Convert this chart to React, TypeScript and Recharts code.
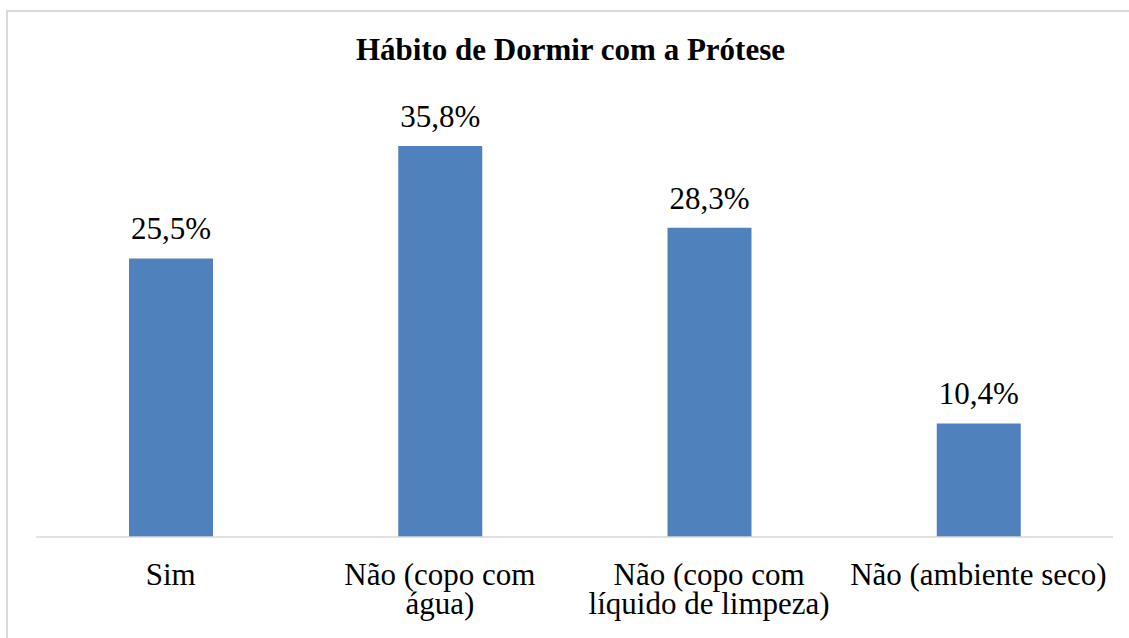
import { BarChart, Bar, XAxis, YAxis, LabelList } from "recharts";

const categories = [
  ["Sim"],
  ["Não (copo com", "água)"],
  ["Não (copo com", "líquido de limpeza)"],
  ["Não (ambiente seco)"],
];
const values = [25.5, 35.8, 28.3, 10.4];
const valueLabels = ["25,5%", "35,8%", "28,3%", "10,4%"];

const FONT = "'Liberation Serif', 'Times New Roman', serif";
const BAR_COLOR = "#4f81bd";

const data = categories.map((lines, i) => ({
  name: lines.join(" "),
  value: values[i],
  label: valueLabels[i],
}));

function CategoryTick({ x, y, index }: any) {
  const lines = categories[index] || [];
  return (
    <text
      x={x}
      y={y}
      textAnchor="middle"
      fill="#000"
      style={{ fontFamily: FONT, fontSize: 31 }}
    >
      {lines.map((line, i) => (
        <tspan key={i} x={x} dy={i === 0 ? 48 : 29}>
          {line}
        </tspan>
      ))}
    </text>
  );
}

function ValueLabel({ x, y, width, value }: any) {
  return (
    <text
      x={x + width / 2}
      y={y - 19}
      textAnchor="middle"
      fill="#000"
      style={{ fontFamily: FONT, fontSize: 31 }}
    >
      {value}
    </text>
  );
}

export default function App() {
  return (
    <div
      style={{
        position: "absolute",
        left: 0,
        top: 0,
        width: 1129,
        height: 638,
        background: "#fff",
        overflow: "hidden",
        fontFamily: FONT,
      }}
    >
      {/* chart frame: only top and left edges are visible in the crop */}
      <div
        style={{
          position: "absolute",
          left: 6,
          top: 10,
          width: 1200,
          height: 700,
          borderTop: "2px solid #d9d9d9",
          borderLeft: "2px solid #d9d9d9",
        }}
      />
      <div
        style={{
          position: "absolute",
          left: 0,
          width: 1141,
          top: 32,
          textAlign: "center",
          fontWeight: "bold",
          fontSize: 31,
          lineHeight: "36px",
          color: "#000",
        }}
      >
        Hábito de Dormir com a Prótese
      </div>
      <div style={{ position: "absolute", left: 0, top: 0 }}>
        <BarChart
          width={1129}
          height={638}
          data={data}
          margin={{ top: 100, right: 16, bottom: 0, left: 36 }}
        >
          <YAxis hide domain={[0, 40]} />
          <XAxis
            dataKey="name"
            interval={0}
            height={101}
            tickLine={false}
            tickSize={0}
            tickMargin={0}
            axisLine={{ stroke: "#d9d9d9", strokeWidth: 1.5 }}
            tick={<CategoryTick />}
          />
          <Bar dataKey="value" fill={BAR_COLOR} barSize={84} isAnimationActive={false}>
            <LabelList dataKey="label" content={<ValueLabel />} />
          </Bar>
        </BarChart>
      </div>
    </div>
  );
}
